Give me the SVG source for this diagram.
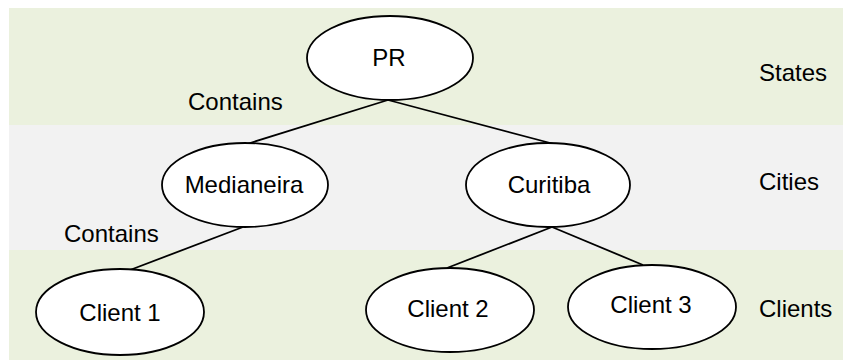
<svg xmlns="http://www.w3.org/2000/svg" width="843" height="360" viewBox="0 0 843 360">
  <style>
    .band-green { fill: #EBF1DE; }
    .band-gray { fill: #F2F2F2; }
    .node ellipse { fill: #FFFFFF; stroke: #000000; stroke-width: 1.8; }
    text { font-family: "Liberation Sans", Arial, sans-serif; font-size: 24px; fill: #000000; }
    .label { text-anchor: middle; }
    #connectors line { stroke: #000000; stroke-width: 1.8; }
  </style>

  <!-- level bands -->
  <g id="bands">
    <rect class="band-green" x="9" y="8" width="834" height="117"/>
    <rect class="band-gray" x="9" y="125" width="834" height="125"/>
    <rect class="band-green" x="9" y="250" width="834" height="110"/>
  </g>

  <!-- level names -->
  <g id="levels">
    <text x="759" y="81">States</text>
    <text x="759" y="190">Cities</text>
    <text x="759" y="317">Clients</text>
  </g>

  <!-- edges -->
  <g id="connectors">
    <line x1="388" y1="100" x2="247" y2="144"/>
    <line x1="388" y1="100" x2="554" y2="144"/>
    <line x1="243" y1="227" x2="130" y2="270"/>
    <line x1="552" y1="227" x2="447" y2="268"/>
    <line x1="552" y1="227" x2="643" y2="265"/>
  </g>

  <!-- edge labels -->
  <g id="edge-labels">
    <text x="188" y="110">Contains</text>
    <text x="64" y="242">Contains</text>
  </g>

  <g id="node-pr" class="node">
    <ellipse cx="390" cy="58" rx="83" ry="42"/>
    <text class="label" x="389" y="66">PR</text>
  </g>

  <g id="node-medianeira" class="node">
    <ellipse cx="245" cy="185" rx="83" ry="42"/>
    <text class="label" x="244" y="193">Medianeira</text>
  </g>

  <g id="node-curitiba" class="node">
    <ellipse cx="548" cy="185" rx="82" ry="42"/>
    <text class="label" x="549" y="193">Curitiba</text>
  </g>

  <g id="node-client1" class="node">
    <ellipse cx="120" cy="312" rx="84" ry="43"/>
    <text class="label" x="120" y="321">Client 1</text>
  </g>

  <g id="node-client2" class="node">
    <ellipse cx="450" cy="310" rx="84" ry="42"/>
    <text class="label" x="448" y="317">Client 2</text>
  </g>

  <g id="node-client3" class="node">
    <ellipse cx="652" cy="307" rx="84" ry="42"/>
    <text class="label" x="651" y="313">Client 3</text>
  </g>
</svg>
